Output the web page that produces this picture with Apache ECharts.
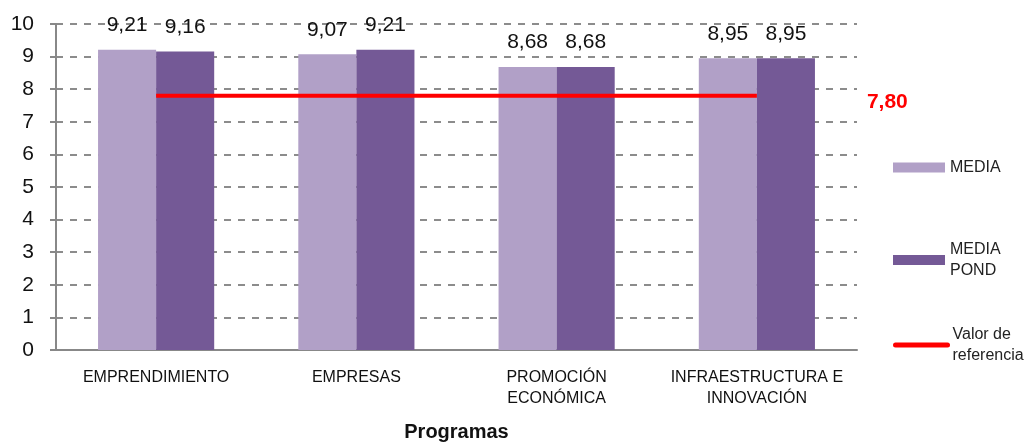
<!DOCTYPE html>
<html>
<head>
<meta charset="utf-8">
<script src="https://cdn.jsdelivr.net/npm/echarts@6/dist/echarts.min.js"></script>
<style>
  html, body { margin: 0; padding: 0; background: #fff; }
  #chart { width: 1035px; height: 447px; }
</style>
</head>
<body>
<div id="chart"></div>
<script>
const categories = ['EMPRENDIMIENTO', 'EMPRESAS', 'PROMOCIÓN\nECONÓMICA', 'INFRAESTRUCTURA E\nINNOVACIÓN'];
const media = [9.21, 9.07, 8.68, 8.95];
const mediaPond = [9.16, 9.21, 8.68, 8.95];
const referencia = [7.80, 7.80, 7.80, 7.80];
const yTicks = [0, 1, 2, 3, 4, 5, 6, 7, 8, 9, 10];

const chart = echarts.init(document.getElementById('chart'));
const fmt = v => v.toFixed(2).replace('.', ',');
const font = 'Liberation Sans Narrow, Arial Narrow, Liberation Sans, Arial, sans-serif';
const sans = 'Liberation Sans, Arial, sans-serif';
const legendText = { fontFamily: font, fontSize: 16, color: '#222', lineHeight: 21 };

const option = {
  animation: false,
  grid: { left: 56, right: 178, top: 24, bottom: 95 },
  legend: [
    {
      orient: 'vertical',
      left: 888,
      top: 152,
      itemWidth: 52,
      itemHeight: 10,
      itemGap: 61,
      textStyle: legendText,
      data: [
        { name: 'MEDIA', icon: 'rect' },
        { name: 'MEDIA\nPOND', icon: 'rect' }
      ]
    },
    {
      orient: 'vertical',
      left: 888,
      top: 319,
      itemWidth: 52,
      itemHeight: 10,
      textStyle: legendText,
      data: [
        {
          name: 'Valor de\nreferencia',
          itemStyle: { color: 'rgba(0,0,0,0)', borderColor: 'rgba(0,0,0,0)', borderWidth: 0 },
          lineStyle: { color: '#FF0000', width: 5, cap: 'round' }
        }
      ]
    }
  ],
  xAxis: {
    type: 'category',
    data: categories,
    name: 'Programas',
    nameLocation: 'middle',
    nameGap: 72,
    nameTextStyle: { fontFamily: sans, fontWeight: 'bold', fontSize: 20, color: '#111' },
    axisLine: { lineStyle: { color: '#888', width: 2 } },
    axisTick: { lineStyle: { color: '#888', width: 2 }, length: 6 },
    axisLabel: { interval: 0, fontFamily: font, fontSize: 16, color: '#111', margin: 17, lineHeight: 21 }
  },
  yAxis: {
    type: 'value',
    min: yTicks[0],
    max: yTicks[yTicks.length - 1],
    interval: 1,
    axisLine: { show: true, lineStyle: { color: '#888', width: 2 } },
    axisTick: { show: true, lineStyle: { color: '#888', width: 2 }, length: 6 },
    axisLabel: { fontFamily: sans, fontSize: 21, color: '#111', margin: 22 },
    splitLine: { lineStyle: { color: '#8c8c8c', width: 2, type: [7, 7] } }
  },
  series: [
    {
      name: 'MEDIA',
      type: 'bar',
      data: media,
      barGap: '0%',
      barCategoryGap: '42%',
      itemStyle: { color: '#B1A0C7' },
      label: { show: true, position: 'top', distance: 14, formatter: p => fmt(p.value), fontFamily: sans, fontSize: 21, color: '#111' }
    },
    {
      name: 'MEDIA\nPOND',
      type: 'bar',
      data: mediaPond,
      itemStyle: { color: '#745996' },
      label: { show: true, position: 'top', distance: 14, formatter: p => fmt(p.value), fontFamily: sans, fontSize: 21, color: '#111' }
    },
    {
      name: 'Valor de\nreferencia',
      type: 'line',
      data: referencia,
      symbol: 'none',
      lineStyle: { color: '#FF0000', width: 4 },
      itemStyle: { color: '#FF0000' },
      endLabel: {
        show: true,
        formatter: p => fmt(p.value),
        distance: 110,
        offset: [0, 6],
        fontFamily: font,
        fontWeight: 'bold',
        fontSize: 21,
        color: '#FF0000'
      },
      z: 5
    }
  ]
};
chart.setOption(option);
</script>
</body>
</html>
